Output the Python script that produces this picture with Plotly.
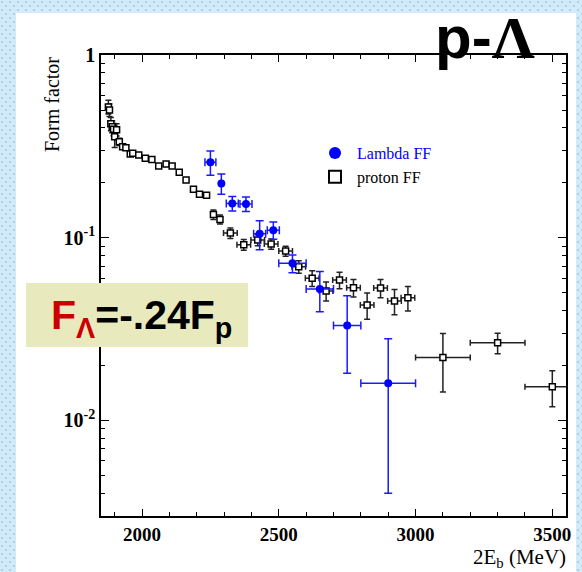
import base64
import plotly.graph_objects as go

# ---------------- data ----------------
proton_x = [1877, 1881, 1886, 1891, 1896, 1900, 1907, 1917, 1929, 1941,
            1957, 1966, 1988, 2012, 2036, 2061, 2088, 2110, 2136, 2161,
            2188, 2210, 2236, 2261, 2285,
            2323, 2372, 2423, 2472, 2525, 2573, 2622, 2673, 2722, 2773, 2823, 2872, 2923, 2972,
            3100, 3300, 3500]
proton_y = [0.52, 0.50, 0.42, 0.405, 0.392, 0.357, 0.39, 0.335, 0.315, 0.311,
            0.287, 0.290, 0.284, 0.272, 0.268, 0.247, 0.253, 0.247, 0.228, 0.207,
            0.184, 0.173, 0.171, 0.134, 0.126,
            0.106, 0.0916, 0.0971, 0.0924, 0.0846, 0.0694, 0.060, 0.0511, 0.0587, 0.0532, 0.0428, 0.0530, 0.0450, 0.0469,
            0.0221, 0.0266, 0.0153]
proton_ey = [0.045, 0.04, 0.035, 0.03, 0.03, 0.045, 0.03, 0.015, 0.01, 0.01,
             0.008, 0.008, 0.006, 0.006, 0.006, 0.005, 0.005, 0.005, 0.005, 0.005,
             0.005, 0.005, 0.005, 0.008, 0.007,
             0.0069, 0.0063, 0.0067, 0.006, 0.0053, 0.0055, 0.0059, 0.0061, 0.0061, 0.0058, 0.0070, 0.0060, 0.0071, 0.0072,
             0.0078, 0.0034, 0.0034]
proton_ex = [0] * 25 + [25] * 14 + [100] * 3

lam_x = [2250, 2290, 2330, 2380, 2430, 2480, 2550, 2650, 2750, 2900]
lam_y = [0.259, 0.198, 0.154, 0.153, 0.105, 0.110, 0.0724, 0.0524, 0.0331, 0.0160]
lam_ey = [0.039, 0.025, 0.014, 0.014, 0.019, 0.012, 0.008, 0.013, 0.015, 0.012]
lam_ex = [20, 0, 22, 22, 22, 22, 50, 50, 50, 100]

x_range = [1850, 3550]
y_range = [0.003, 1]
y_tickvals = [1, 0.1, 0.01]
y_ticktext = ["1", "10<sup>-1</sup>", "10<sup>-2</sup>"]

# ---------------- layout geometry ----------------
W, H = 582, 572
ML, MR, MT, MB = 101, 16, 55, 56
PW, PH = W - ML - MR, H - MT - MB


def px(xp):
    return (xp - ML) / PW


def py(yp):
    return (H - MB - yp) / PH


SERIF = "Liberation Serif, Times New Roman, serif"
SANS = "Liberation Sans, Arial, sans-serif"

fig = go.Figure()

fig.add_trace(go.Scatter(
    x=proton_x, y=proton_y, mode="markers", name="proton FF",
    marker=dict(symbol="square", size=6, color="white",
                line=dict(color="black", width=1.5)),
    error_y=dict(type="data", array=proton_ey, color="#222222", thickness=1.5, width=3),
    error_x=dict(type="data", array=proton_ex, color="#222222", thickness=1.5, width=3),
))
fig.add_trace(go.Scatter(
    x=lam_x, y=lam_y, mode="markers",
    name='<span style="color:#0000ff">Lambda FF</span>',
    marker=dict(symbol="circle", size=8, color="#0000ff"),
    error_y=dict(type="data", array=lam_ey, color="#1a1aff", thickness=1.5, width=4),
    error_x=dict(type="data", array=lam_ex, color="#1a1aff", thickness=1.5, width=4),
))

# dotted light-blue background
svg = (
    "<svg xmlns='http://www.w3.org/2000/svg' width='582' height='572'>"
    "<defs><pattern id='p' width='8' height='8' patternUnits='userSpaceOnUse'>"
    "<rect width='8' height='8' fill='#d2ebfb'/>"
    "<circle cx='2' cy='2' r='0.9' fill='#a3c2d8'/>"
    "<circle cx='6' cy='6' r='0.9' fill='#a3c2d8'/>"
    "</pattern></defs><rect width='582' height='572' fill='url(#p)'/></svg>"
)
src = "data:image/svg+xml;base64," + base64.b64encode(svg.encode()).decode()

minor_y = [m * 10 ** e for e in (-3, -2, -1) for m in range(2, 10)]

fig.update_layout(
    width=W, height=H,
    margin=dict(l=ML, r=MR, t=MT, b=MB),
    paper_bgcolor="#d2ebfb",
    plot_bgcolor="rgba(0,0,0,0)",
    showlegend=True,
    legend=dict(x=px(313), y=py(136), xanchor="left", yanchor="top",
                bgcolor="rgba(0,0,0,0)", font=dict(family=SERIF, size=16, color="black"),
                traceorder="reversed", itemsizing="constant", tracegroupgap=0,
                itemwidth=34),
    images=[dict(source=src, xref="paper", yref="paper", x=px(0), y=py(0),
                 sizex=W / PW, sizey=H / PH, xanchor="left", yanchor="top",
                 sizing="stretch", layer="below")],
    shapes=[
        dict(type="rect", xref="paper", yref="paper", x0=px(16), x1=px(576),
             y0=py(580), y1=py(13), fillcolor="white", line=dict(width=0), layer="below"),
        dict(type="rect", xref="paper", yref="paper", x0=px(26), x1=px(248),
             y0=py(347), y1=py(283), fillcolor="#e8e9bd", line=dict(width=0), layer="above"),
    ],
    xaxis=dict(
        range=x_range, showgrid=False, zeroline=False,
        showline=True, linecolor="black", linewidth=1.6, mirror="ticks",
        ticks="inside", ticklen=7, tickwidth=1.2, tickcolor="black",
        tick0=2000, dtick=500,
        tickfont=dict(family=SERIF, size=19, color="black", weight="bold"),
        minor=dict(ticks="inside", ticklen=4, tickwidth=1.2, tickcolor="black", dtick=100, tick0=1900),
    ),
    yaxis=dict(
        type="log", range=[-2.5229, 0], showgrid=False, zeroline=False,
        showline=True, linecolor="black", linewidth=1.6, mirror="ticks",
        ticks="inside", ticklen=8, tickwidth=1.2, tickcolor="black",
        tickvals=y_tickvals, ticktext=y_ticktext,
        tickfont=dict(family=SERIF, size=20, color="black", weight="bold"),
        minor=dict(ticks="inside", ticklen=4, tickwidth=1.2, tickcolor="black", tickvals=minor_y),
    ),
    annotations=[
        dict(text="Form factor", xref="paper", yref="paper", x=px(52), y=py(105),
             xanchor="center", yanchor="middle", textangle=-90, showarrow=False,
             font=dict(family=SERIF, size=20, color="black")),
        dict(text="2E<sub>b</sub> (MeV)", xref="paper", yref="paper", x=px(568), y=py(558),
             xanchor="right", yanchor="middle", showarrow=False,
             font=dict(family=SERIF, size=21, color="black")),
        dict(text='p-<span style="font-family:Liberation Serif, Times New Roman, serif">Λ</span>',
             xref="paper", yref="paper", x=px(537), y=py(37),
             xanchor="right", yanchor="middle", showarrow=False,
             font=dict(family=SANS, size=60, color="black", weight="bold")),
        dict(text='<span style="color:#cc0000">F<sub>Λ</sub></span>=-.24F<sub>p</sub>',
             xref="paper", yref="paper", x=px(141), y=py(318),
             xanchor="center", yanchor="middle", showarrow=False,
             font=dict(family=SANS, size=41, color="black", weight="bold")),
    ],
)

fig.write_html("out.html")
